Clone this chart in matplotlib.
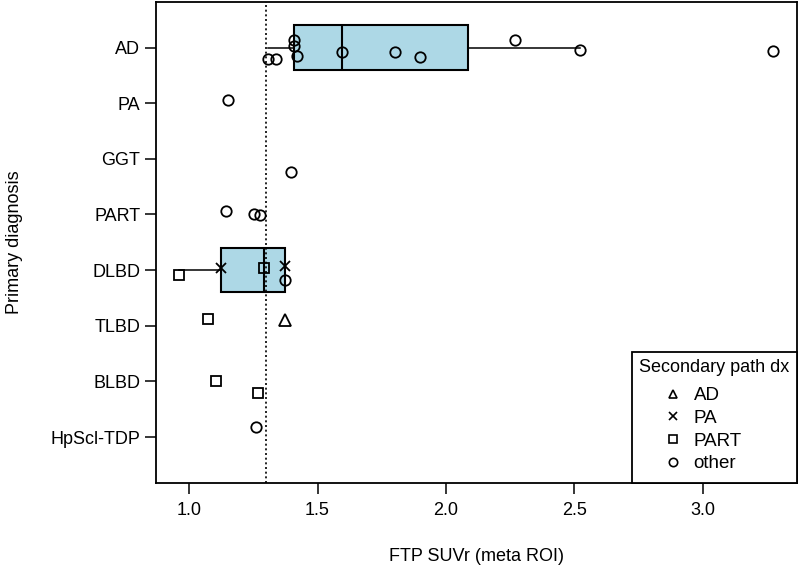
import numpy as np
import matplotlib
matplotlib.use("Agg")
import matplotlib.pyplot as plt
from matplotlib.lines import Line2D

plt.rcParams['font.family'] = ['Liberation Sans', 'DejaVu Sans']
plt.rcParams['font.size'] = 13

# rows from bottom to top
diagnoses = ["HpScl-TDP", "BLBD", "TLBD", "DLBD", "PART", "GGT", "PA", "AD"]

# one entry per case
case_dx = ["AD"] * 11 + ["PA"] + ["GGT"] + ["PART"] * 3 + ["DLBD"] * 5 \
    + ["TLBD"] * 2 + ["BLBD"] * 2 + ["HpScl-TDP"]
case_suvr = [1.408, 1.408, 1.419, 1.307, 1.339, 1.597, 1.803, 1.899, 2.270, 2.520, 3.274,
             1.153,
             1.397,
             1.145, 1.253, 1.276,
             0.962, 1.126, 1.291, 1.375, 1.375,
             1.074, 1.374,
             1.106, 1.267,
             1.262]
case_sec = ["other"] * 11 + ["other"] + ["other"] + ["other"] * 3 \
    + ["PART", "PA", "PART", "PA", "other"] \
    + ["PART", "AD"] + ["PART", "PART"] + ["other"]
# vertical jitter as drawn in the original
case_jitter = [0.131, 0.023, -0.157, -0.198, -0.203, -0.085, -0.085, -0.175, 0.131, -0.049, -0.059,
               0.054,
               -0.234,
               0.054, 0.013, -0.005,
               -0.085, 0.036, 0.036, 0.072, -0.180,
               0.126, 0.108,
               0.000, -0.216,
               0.180]

boxed_groups = ["AD", "DLBD"]
threshold = 1.30

sec_levels = ["AD", "PA", "PART", "other"]
sec_markers = {"AD": "^", "PA": "x", "PART": "s", "other": "o"}
sec_sizes = {"AD": 8, "PA": 7.5, "PART": 7, "other": 7.5}


def fivenum(x):
    # same hinges as R's boxplot.stats
    x = np.sort(np.asarray(x))
    n = len(x)
    n4 = np.floor((n + 3) / 2) / 2
    d = np.array([1, n4, (n + 1) / 2, n + 1 - n4, n]) - 1
    return 0.5 * (x[np.floor(d).astype(int)] + x[np.ceil(d).astype(int)])


suvr = np.array(case_suvr)
dx = np.array(case_dx)
sec = np.array(case_sec)
jit = np.array(case_jitter)
ypos = np.array([diagnoses.index(d) + 1 for d in case_dx]) + jit

fig = plt.figure(figsize=(8, 5.7), dpi=100)
ax = fig.add_axes([0.1944, 0.1533, 0.8019, 0.8432])

stats = []
positions = []
for g in boxed_groups:
    v = suvr[dx == g]
    lo, q1, med, q3, hi = fivenum(v)
    iqr = q3 - q1
    stats.append(dict(med=med, q1=q1, q3=q3,
                      whislo=v[v >= q1 - 1.5 * iqr].min(),
                      whishi=v[v <= q3 + 1.5 * iqr].max(),
                      fliers=[]))
    positions.append(diagnoses.index(g) + 1)

ax.bxp(stats, positions=positions, orientation="horizontal", widths=0.8,
       patch_artist=True, showcaps=False, showfliers=False,
       boxprops=dict(facecolor="lightblue", edgecolor="black", linewidth=1.5),
       medianprops=dict(color="black", linewidth=1.5),
       whiskerprops=dict(color="black", linewidth=1.1),
       manage_ticks=False, zorder=2)

ax.axvline(threshold, color="black", linestyle=(0, (1.2, 1.6)), linewidth=1.2, zorder=3)

for s in sec_levels:
    m = sec == s
    if s == "PA":
        ax.plot(suvr[m], ypos[m], linestyle="none", marker="x", markersize=sec_sizes[s],
                color="black", markeredgewidth=1.3, zorder=4)
    else:
        ax.plot(suvr[m], ypos[m], linestyle="none", marker=sec_markers[s],
                markersize=sec_sizes[s], markerfacecolor="none",
                markeredgecolor="black", markeredgewidth=1.3, zorder=4)

span = suvr.max() - suvr.min()
ax.set_xlim(suvr.min() - 0.04 * span, suvr.max() + 0.04 * span)
ax.set_ylim(0.18, 8.82)
ax.set_xticks([1.0, 1.5, 2.0, 2.5, 3.0])
ax.set_xticklabels(["1.0", "1.5", "2.0", "2.5", "3.0"])
ax.set_yticks(range(1, len(diagnoses) + 1))
ax.set_yticklabels(diagnoses)
ax.tick_params(axis="both", direction="out", length=8, width=1.1, color="black")
ax.tick_params(axis="x", pad=6)
ax.tick_params(axis="y", pad=3)
for sp in ax.spines.values():
    sp.set_linewidth(1.3)
    sp.set_color("black")

ax.set_xlabel("FTP SUVr (meta ROI)", labelpad=21)
ax.set_ylabel("Primary diagnosis", labelpad=20)

handles = []
for s in sec_levels:
    if s == "PA":
        h = Line2D([], [], linestyle="none", marker="x", markersize=sec_sizes[s],
                   color="black", markeredgewidth=1.2)
    else:
        h = Line2D([], [], linestyle="none", marker=sec_markers[s], markersize=sec_sizes[s],
                   markerfacecolor="none", markeredgecolor="black", markeredgewidth=1.2)
    handles.append(h)
leg = ax.legend(handles, sec_levels, title="Secondary path dx", loc="lower right",
                borderaxespad=0, frameon=True, fancybox=False, markerscale=0.8,
                handlelength=3.3, handletextpad=-0.55, labelspacing=0.3,
                borderpad=0.4, alignment="left", title_fontsize=13, fontsize=13.5)
# more vertical room round the entries than matplotlib gives by default
leg._legend_box.sep = 5.8
leg._legend_handle_box.pad = 2.0
leg.get_frame().set_edgecolor("black")
leg.get_frame().set_linewidth(1.3)
leg.get_frame().set_alpha(1)

fig.savefig("out.png", dpi=100)
